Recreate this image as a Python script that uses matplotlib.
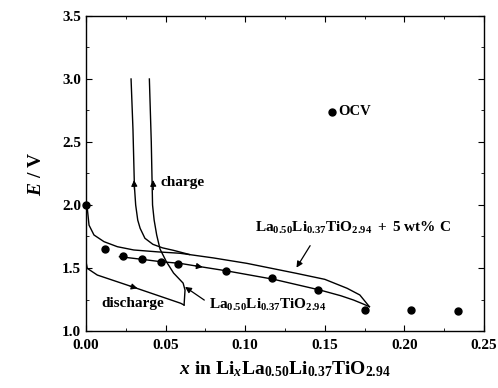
import matplotlib
matplotlib.use("Agg")
import matplotlib.pyplot as plt
from matplotlib.ticker import MultipleLocator

# OCV points
ocv_x = [0.0, 0.0117, 0.0234, 0.0354, 0.047, 0.058, 0.0877, 0.117, 0.146, 0.175, 0.204, 0.2337]
ocv_y = [2.0, 1.65, 1.595, 1.569, 1.55, 1.53, 1.48, 1.42, 1.325, 1.167, 1.164, 1.16]

# La0.50Li0.37TiO2.94 + 5 wt% C : upper branch
c_up_x = [0.0, 0.0008, 0.0019, 0.005, 0.0113, 0.0197, 0.030, 0.045, 0.059, 0.080, 0.101, 0.132, 0.150, 0.164, 0.172, 0.178]
c_up_y = [2.0, 1.974, 1.84, 1.762, 1.709, 1.669, 1.643, 1.628, 1.617, 1.58, 1.537, 1.458, 1.41, 1.339, 1.286, 1.193]
# charge line joining the upper branch
c_ch_x = [0.0283, 0.0295, 0.0304, 0.0312, 0.0325, 0.034, 0.037, 0.042, 0.048, 0.055, 0.065]
c_ch_y = [3.0, 2.6, 2.15, 2.0, 1.88, 1.815, 1.736, 1.688, 1.66, 1.64, 1.607]
# lower branch (through OCV points)
c_lo_x = [0.021, 0.035, 0.047, 0.059, 0.072, 0.088, 0.118, 0.147, 0.160, 0.168, 0.174, 0.178]
c_lo_y = [1.59, 1.569, 1.55, 1.537, 1.51, 1.478, 1.41, 1.325, 1.28, 1.246, 1.215, 1.193]

# La0.50Li0.37TiO2.94 without carbon
n_dis_x = [0.0, 0.0, 0.0008, 0.0071, 0.030, 0.0595, 0.0616]
n_dis_y = [2.0, 1.55, 1.497, 1.444, 1.347, 1.22, 1.206]
n_ch_x = [0.0616, 0.0622, 0.061, 0.055, 0.0505, 0.0465, 0.0444, 0.0428, 0.0418, 0.041, 0.0398]
n_ch_y = [1.206, 1.325, 1.38, 1.46, 1.55, 1.65, 1.762, 1.88, 2.0, 2.5, 3.0]

SERIF = "Liberation Serif"
plt.rcParams["font.family"] = SERIF
plt.rcParams["font.weight"] = "bold"
plt.rcParams["mathtext.fontset"] = "custom"
plt.rcParams["mathtext.rm"] = SERIF + ":bold"
plt.rcParams["mathtext.bf"] = SERIF + ":bold"
plt.rcParams["mathtext.it"] = SERIF + ":italic:bold"

fig = plt.figure(figsize=(4.98, 3.88), dpi=100)
ax = fig.add_axes([0.1727, 0.1469, 0.7992, 0.8119])

lw = 1.0
ax.plot(c_up_x, c_up_y, color="k", lw=lw)
ax.plot(c_ch_x, c_ch_y, color="k", lw=lw)
ax.plot(c_lo_x, c_lo_y, color="k", lw=lw)
ax.plot(n_dis_x, n_dis_y, color="k", lw=lw)
ax.plot(n_ch_x, n_ch_y, color="k", lw=lw)
ax.plot(ocv_x, ocv_y, "o", color="k", ms=5, clip_on=False, zorder=5)

# direction arrows on curves
arr = dict(arrowstyle="-|>", color="k", lw=0.8, mutation_scale=9)
ax.annotate("", xy=(0.0301, 2.22), xytext=(0.0305, 2.10), arrowprops=arr)
ax.annotate("", xy=(0.0420, 2.22), xytext=(0.0424, 2.10), arrowprops=arr)
ax.annotate("", xy=(0.034, 1.333), xytext=(0.026, 1.362), arrowprops=arr)
ax.annotate("", xy=(0.075, 1.504), xytext=(0.067, 1.520), arrowprops=arr)

# OCV legend
ax.plot([0.1543], [2.74], "o", color="k", ms=5)
ax.text(0.1585, 2.74, "OCV", fontsize=10.5, fontweight="bold", va="center")

ax.text(0.047, 2.18, "charge", fontsize=11, fontweight="bold", va="center")
ax.text(0.0095, 1.22, "discharge", fontsize=11, fontweight="bold", va="center")

lab = r"$\mathrm{La_{0.50}Li_{0.37}TiO_{2.94}}$"
ax.annotate(lab, xy=(0.0622, 1.35), xytext=(0.0775, 1.205), fontsize=11,
            va="center", arrowprops=dict(arrowstyle="-|>", color="k", lw=0.9,
                                         mutation_scale=9, shrinkA=2, shrinkB=0,
                                         relpos=(0.0, 0.6)))
labc = r"$\mathrm{La_{0.50}Li_{0.37}TiO_{2.94}\ +\ 5\ wt\%\ C}$"
ax.text(0.106, 1.817, labc, fontsize=11, va="center")
ax.annotate("", xy=(0.1313, 1.484), xytext=(0.1417, 1.696),
            arrowprops=dict(arrowstyle="-|>", color="k", lw=0.9, mutation_scale=9))

ax.set_xlim(0, 0.25)
ax.set_ylim(1.0, 3.5)
ax.xaxis.set_major_locator(MultipleLocator(0.05))
ax.xaxis.set_minor_locator(MultipleLocator(0.025))
ax.yaxis.set_major_locator(MultipleLocator(0.5))
ax.yaxis.set_minor_locator(MultipleLocator(0.25))
ax.tick_params(which="both", direction="in", top=True, right=True, labelsize=11)
ax.tick_params(which="major", length=4)
ax.tick_params(which="minor", length=2)
ax.tick_params(axis="x", pad=6)
ax.set_xticklabels([f"{v:.2f}" for v in ax.get_xticks()])
ax.set_yticklabels([f"{v:.1f}" for v in ax.get_yticks()])
for s in ax.spines.values():
    s.set_linewidth(1.0)

ax.set_xlabel(r"$\mathit{x}\ \mathrm{in\ Li}_{\mathit{x}}\mathrm{La_{0.50}Li_{0.37}TiO_{2.94}}$",
              fontsize=14, labelpad=5)
ax.set_ylabel(r"$\mathit{E}\ \mathrm{/\ V}$", fontsize=14, labelpad=12)

fig.savefig("out.png", dpi=100)
